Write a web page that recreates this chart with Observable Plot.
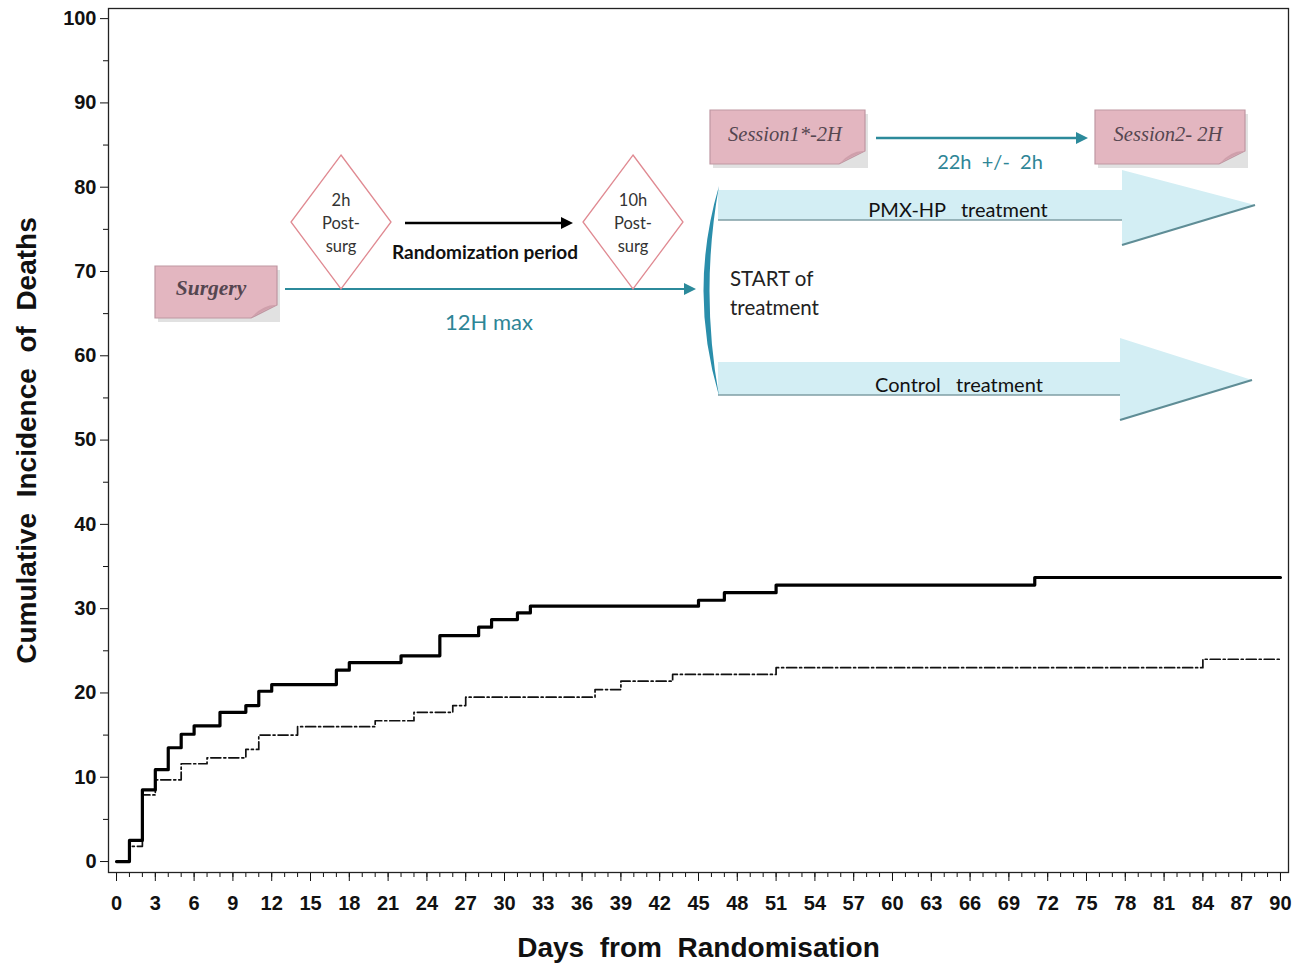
<!DOCTYPE html>
<html>
<head>
<meta charset="utf-8">
<script src="https://cdn.jsdelivr.net/npm/d3@7"></script>
<script src="https://cdn.jsdelivr.net/npm/@observablehq/plot@0.6"></script>
<style>
  html, body { margin: 0; padding: 0; background: #fff; }
  #chart svg { display: block; }
</style>
</head>
<body>
<div id="chart"></div>
<script>
// ---- data ----
const solidDays   = [0, 1, 2, 3, 4, 5, 6, 8, 10, 11, 12, 17, 18, 22, 25, 28, 29, 31, 32, 45, 47, 51, 71, 90];
const solidValues = [0, 2.5, 8.5, 10.9, 13.5, 15.1, 16.1, 17.7, 18.5, 20.2, 21.0, 22.7, 23.6, 24.4, 26.8, 27.8, 28.7, 29.5, 30.3, 31.0, 31.9, 32.8, 33.7, 33.7];
const dashedDays   = [0, 1, 2, 3, 5, 7, 10, 11, 14, 20, 23, 26, 27, 37, 39, 43, 51, 84, 90];
const dashedValues = [0, 1.8, 7.9, 9.7, 11.6, 12.3, 13.3, 15.0, 16.0, 16.7, 17.7, 18.5, 19.5, 20.4, 21.4, 22.2, 23.0, 24.0, 24.0];
const xTickLabels = d3.range(0, 91, 3);
const xMinorTicks = d3.range(0, 91, 1);
const yTickLabels = d3.range(0, 101, 10);
const yMinorTicks = d3.range(5, 100, 10);
const xLabel = "Days  from  Randomisation";
const yLabel = "Cumulative  Incidence  of  Deaths";

const solid = solidDays.map((d, i) => ({day: d, v: solidValues[i]}));
const dashed = dashedDays.map((d, i) => ({day: d, v: dashedValues[i]}));

const plot = Plot.plot({
  width: 1298,
  height: 967,
  marginLeft: 108,
  marginTop: 8,
  marginRight: 10,
  marginBottom: 95,
  style: {fontFamily: "Liberation Sans, Arial, sans-serif", fontSize: "20px", background: "#fff", color: "#111"},
  x: {domain: [-0.62, 90.62]},
  y: {domain: [-1.3, 101.2]},
  marks: [
    Plot.axisX({ticks: xMinorTicks, tickSize: 5, tickFormat: () => "", label: null}),
    Plot.axisX({ticks: xTickLabels, tickSize: 9, tickPadding: 14, tickFormat: d => d, label: null, fontSize: 20, fontWeight: "bold"}),
    Plot.axisY({ticks: yMinorTicks, tickSize: 5, tickFormat: () => "", label: null}),
    Plot.axisY({ticks: yTickLabels, tickSize: 8, tickPadding: 4, tickFormat: d => d, label: null, fontSize: 20, fontWeight: "bold"}),
    Plot.frame({stroke: "#222", strokeWidth: 1.3}),
    Plot.line(dashed, {x: "day", y: "v", curve: "step-after", stroke: "#111", strokeWidth: 1.7, strokeDasharray: "10,3,2,3"}),
    Plot.line(solid, {x: "day", y: "v", curve: "step-after", stroke: "#000", strokeWidth: 3.2}),
    Plot.text([xLabel], {frameAnchor: "bottom", dy: 76, fontSize: 28, fontWeight: "bold", fill: "#111", lineAnchor: "middle", textAnchor: "middle"}),
    Plot.text([yLabel], {frameAnchor: "left", dx: -81, rotate: -90, fontSize: 28, fontWeight: "bold", fill: "#111", lineAnchor: "middle", textAnchor: "middle"})
  ]
});
document.getElementById("chart").appendChild(plot);

// ---- flow-diagram inset (decorative annotation) ----
const svg = d3.select(plot);
const g = svg.append("g").attr("class", "diagram");
const teal = "#2c8a9b";
const sans = "Lato, 'Open Sans', sans-serif";
const serif = "'Liberation Serif', 'DejaVu Serif', serif";

function txt(x, y, s, o = {}) {
  g.append("text")
    .attr("x", x).attr("y", y)
    .attr("text-anchor", o.anchor || "middle")
    .attr("dominant-baseline", "central")
    .attr("font-family", o.family || sans)
    .attr("font-size", o.size || 18)
    .attr("font-style", o.style || "normal")
    .attr("font-weight", o.weight || "normal")
    .attr("fill", o.fill || "#222")
    .style("white-space", "pre")
    .attr("xml:space", "preserve")
    .text(s);
}

function note(x0, y0, x1, y1) {
  g.append("rect").attr("x", x0 + 3).attr("y", y0 + 4).attr("width", x1 - x0).attr("height", y1 - y0)
    .attr("fill", "#c9c9c9").attr("opacity", 0.55);
  g.append("path")
    .attr("d", `M${x0},${y0}H${x1}V${y1 - 13}L${x1 - 26},${y1}H${x0}Z`)
    .attr("fill", "#e3b6c0").attr("stroke", "#bf97a2").attr("stroke-width", 1.2);
  g.append("path")
    .attr("d", `M${x1},${y1 - 13}Q${x1 - 14},${y1 - 14} ${x1 - 26},${y1}Q${x1 - 16},${y1 - 7} ${x1},${y1 - 13}Z`)
    .attr("fill", "#cf9fab");
}

function arrow(x0, x1, y, color, w) {
  g.append("line").attr("x1", x0).attr("x2", x1 - 8).attr("y1", y).attr("y2", y)
    .attr("stroke", color).attr("stroke-width", w);
  g.append("path").attr("d", `M${x1 - 12},${y - 6}L${x1},${y}L${x1 - 12},${y + 6}Z`).attr("fill", color);
}

function diamond(cx, top, bottom, hw, lines) {
  const cy = (top + bottom) / 2;
  g.append("path")
    .attr("d", `M${cx},${top}L${cx + hw},${cy}L${cx},${bottom}L${cx - hw},${cy}Z`)
    .attr("fill", "#fff").attr("stroke", "#e08a92").attr("stroke-width", 1.3);
  lines.forEach((s, i) => txt(cx, 200 + i * 23, s, {size: 16.5, fill: "#333"}));
}

function bigArrow(x0, x1, yTop, yBot, headTop, headBot, tipX, tipY) {
  g.append("path")
    .attr("d", `M${x0},${yTop}H${x1}V${headTop}L${tipX},${tipY}L${x1},${headBot}V${yBot}H${x0}Z`)
    .attr("fill", "#d3eef4");
  g.append("line").attr("x1", x0).attr("x2", x1).attr("y1", yBot).attr("y2", yBot)
    .attr("stroke", "#7f9ea4").attr("stroke-width", 1.6);
  g.append("line").attr("x1", x1).attr("x2", tipX).attr("y1", headBot).attr("y2", tipY)
    .attr("stroke", "#5f8d96").attr("stroke-width", 2.2);
}

// Surgery -> 12H max
note(155, 266, 277, 318);
txt(211, 288, "Surgery", {family: serif, size: 21.5, style: "italic", weight: "bold", fill: "#554650"});
arrow(285, 696, 289, teal, 2.2);
txt(489, 321, "12H max", {size: 22, fill: "#2e8596"});

// diamonds
diamond(341, 155, 289, 50, ["2h", "Post-", "surg"]);
diamond(633, 155, 289, 50, ["10h", "Post-", "surg"]);

// randomization period
arrow(405, 573, 223, "#000", 2.6);
txt(485, 251, "Randomization period", {size: 19, weight: "bold", fill: "#111"});

// sessions
note(710, 110, 865, 164);
txt(785, 134, "Session1*-2H", {family: serif, size: 20.5, style: "italic", fill: "#554650"});
note(1095, 110, 1245, 164);
txt(1168, 134, "Session2- 2H", {family: serif, size: 20.5, style: "italic", fill: "#554650"});
arrow(876, 1088, 138, teal, 2.4);
txt(990, 161, "22h  +/-  2h", {size: 20, fill: "#2e8596"});

// treatment arrows
bigArrow(718, 1122, 190, 220, 170, 245, 1255, 205);
bigArrow(718, 1120, 362, 395, 338, 420, 1252, 380);
txt(958, 209, "PMX-HP   treatment", {size: 20, fill: "#111"});
txt(959, 384, "Control   treatment", {size: 20, fill: "#111"});

// bracket
g.append("path")
  .attr("d", "M719,186Q688,291 719,396Q700,291 719,186Z")
  .attr("fill", "#2a8eab");

txt(730, 278, "START of", {anchor: "start", size: 20.5, fill: "#222"});
txt(730, 307, "treatment", {anchor: "start", size: 20.5, fill: "#222"});
</script>
</body>
</html>
